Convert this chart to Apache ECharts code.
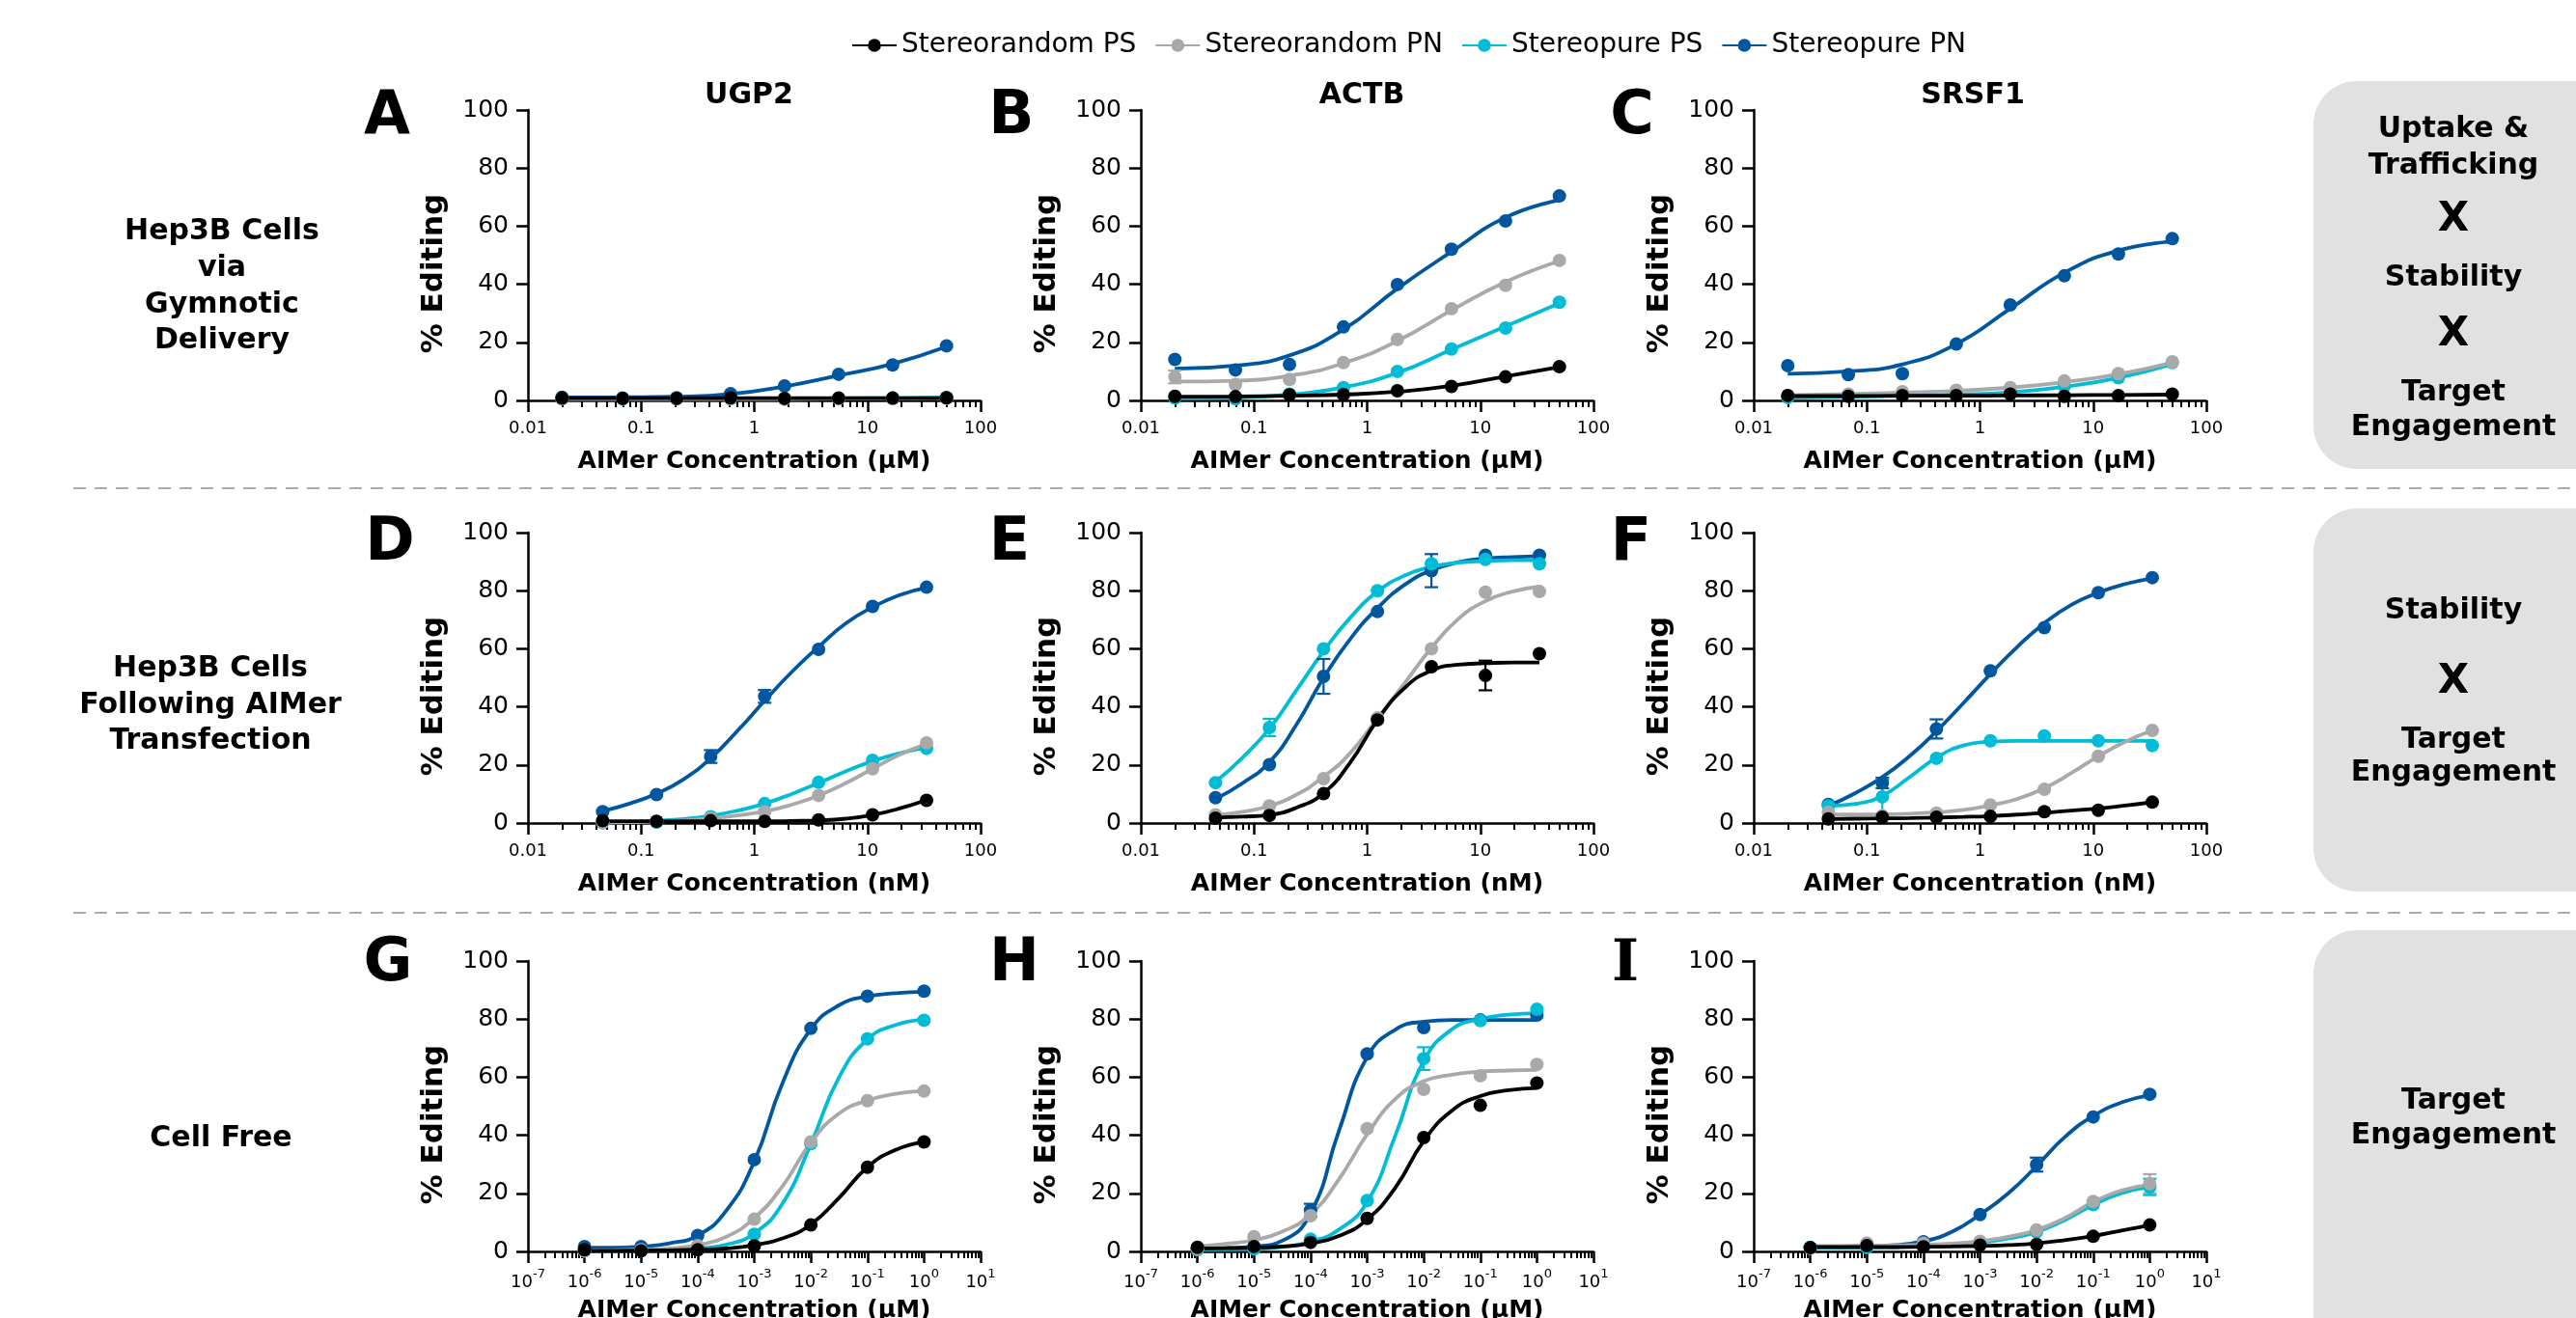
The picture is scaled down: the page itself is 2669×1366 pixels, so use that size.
<!DOCTYPE html>
<html>
<head>
<meta charset="utf-8">
<script src="https://cdn.jsdelivr.net/npm/echarts@6/dist/echarts.min.js"></script>
<style>
  html, body { margin: 0; padding: 0; background: #fff; }
  #main { width: 2669px; height: 1366px; }
</style>
</head>
<body>
<div id="main"></div>
<script>
// ---- data ----
const seriesNames = ["Stereorandom PS", "Stereorandom PN", "Stereopure PS", "Stereopure PN"];
const seriesColors = ["#000000", "#a9a9a9", "#00bcd6", "#0057a0"];

// concentrations (row 1: uM, row 2: nM, row 3: uM)
const concRow1 = [0.02, 0.0686, 0.206, 0.617, 1.85, 5.56, 16.7, 50];
const concRow2 = [0.0457, 0.137, 0.412, 1.235, 3.70, 11.1, 33.3];
const concRow2Fit = [0.0457, 0.0791, 0.137, 0.238, 0.412, 0.713, 1.235, 2.14, 3.70, 6.41, 11.1, 19.2, 33.3];
const concRow3 = [1e-6, 1e-5, 1e-4, 1e-3, 1e-2, 1e-1, 1];
const concRow3Fit = [1e-6, 3.16e-6, 1e-5, 3.16e-5, 1e-4, 3.16e-4, 1e-3, 3.16e-3, 1e-2, 3.16e-2, 0.1, 0.316, 1];

// tick labels
const ticksRow12 = [0.01, 0.1, 1, 10, 100];
const ticksRow3 = [1e-7, 1e-6, 1e-5, 1e-4, 1e-3, 1e-2, 1e-1, 1, 10];

// A - UGP2, gymnotic
const A_srPS = [0.8, 0.7, 0.7, 0.9, 0.7, 0.8, 0.8, 0.9];
const A_srPN = [0.6, 0.5, 0.5, 0.6, 0.4, 0.6, 0.6, 0.7];
const A_spPS = [0.6, 0.5, 0.6, 0.5, 0.6, 0.7, 0.8, 1.0];
const A_spPN = [1.1, 0.8, 0.9, 2.3, 5.0, 9.0, 12.2, 18.8];
const A_srPS_fit = [0.8, 0.8, 0.8, 0.8, 0.8, 0.8, 0.8, 0.8];
const A_srPN_fit = [0.5, 0.5, 0.5, 0.5, 0.5, 0.6, 0.6, 0.7];
const A_spPS_fit = [0.6, 0.6, 0.6, 0.6, 0.6, 0.7, 0.8, 1.0];
const A_spPN_fit = [1.0, 1.1, 1.3, 2.2, 4.8, 8.6, 12.6, 18.5];

// B - ACTB, gymnotic
const B_srPS = [1.4, 1.3, 1.9, 2.0, 3.3, 4.8, 8.1, 11.6];
const B_srPN = [8.1, 5.5, 7.2, 13.0, 21.0, 31.6, 39.6, 48.2];
const B_spPS = [0.8, 0.5, 2.2, 4.4, 10.0, 17.7, 24.9, 33.8];
const B_spPN = [14.1, 10.5, 12.4, 25.3, 39.9, 52.1, 61.8, 70.4];
const B_srPS_fit = [1.3, 1.4, 1.6, 2.0, 3.0, 5.0, 8.3, 11.5];
const B_srPN_fit = [6.5, 6.8, 8.5, 12.8, 20.5, 31.0, 40.8, 48.0];
const B_spPS_fit = [0.8, 1.0, 2.0, 4.5, 9.5, 17.5, 25.5, 33.5];
const B_spPN_fit = [10.9, 12.0, 15.5, 24.4, 38.5, 51.2, 63.0, 69.0];

// C - SRSF1, gymnotic
const C_srPS = [1.7, 1.4, 1.7, 1.7, 2.2, 1.4, 1.7, 2.2];
const C_srPN = [1.7, 2.2, 3.0, 3.5, 4.4, 6.7, 9.2, 13.3];
const C_spPS = [1.0, 1.5, 1.8, 2.0, 2.8, 5.0, 7.8, 13.0];
const C_spPN = [12.0, 8.9, 9.2, 19.4, 32.9, 42.9, 50.4, 55.7];
const C_srPS_fit = [1.5, 1.5, 1.6, 1.6, 1.7, 1.8, 1.9, 2.0];
const C_srPN_fit = [1.8, 2.2, 2.7, 3.3, 4.4, 6.3, 9.0, 13.0];
const C_spPS_fit = [1.0, 1.3, 1.6, 2.0, 2.8, 4.7, 7.8, 12.5];
const C_spPN_fit = [9.2, 10.0, 12.4, 19.4, 31.6, 44.0, 51.6, 54.7];

// D - UGP2, transfection
const D_srPS = [0.8, 0.6, 0.8, 0.6, 1.1, 2.8, 7.8];
const D_srPN = [0.2, 0.6, 1.7, 3.9, 9.5, 18.7, 27.6];
const D_spPS = [0.1, 0.3, 2.2, 6.7, 14.0, 21.6, 25.7];
const D_spPN = [3.9, 9.8, 22.9, 43.6, 59.8, 74.6, 81.2];
const D_srPS_fit = [0.6, 0.6, 0.6, 0.6, 0.6, 0.6, 0.6, 0.7, 0.9, 1.5, 2.8, 5.0, 8.0];
const D_srPN_fit = [0.2, 0.3, 0.5, 0.9, 1.6, 2.6, 4.0, 6.3, 9.5, 13.7, 18.7, 23.5, 27.2];
const D_spPS_fit = [0.2, 0.4, 0.8, 1.4, 2.5, 4.3, 6.7, 10.0, 13.8, 17.8, 21.3, 24.0, 26.0];
const D_spPN_fit = [4.1, 6.7, 10.1, 15.1, 22.3, 31.8, 42.1, 52.0, 60.7, 68.7, 74.3, 78.5, 81.0];

// E - ACTB, transfection
const E_srPS = [1.7, 2.6, 10.1, 35.5, 53.8, 50.8, 58.3];
const E_srPN = [2.8, 5.9, 15.3, 36.2, 60.0, 79.5, 79.7];
const E_spPS = [13.9, 32.9, 60.0, 80.0, 89.3, 90.8, 89.3];
const E_spPN = [8.7, 20.1, 50.5, 72.8, 86.9, 92.2, 92.2];
const E_srPS_fit = [1.9, 2.2, 2.8, 5.3, 10.3, 21.0, 35.5, 46.5, 52.5, 54.5, 55.0, 55.3, 55.3];
const E_srPN_fit = [2.8, 3.9, 5.9, 9.8, 15.9, 24.2, 36.1, 48.1, 60.3, 70.3, 76.4, 79.7, 81.4];
const E_spPS_fit = [14.2, 22.5, 32.5, 45.8, 59.2, 70.8, 79.7, 85.2, 88.2, 89.7, 90.2, 90.5, 90.5];
const E_spPN_fit = [8.3, 13.7, 21.0, 34.0, 50.0, 63.5, 74.0, 82.0, 87.0, 89.8, 91.1, 91.6, 91.9];

// F - SRSF1, transfection
const F_srPS = [1.4, 2.0, 2.0, 2.3, 3.9, 4.4, 7.2];
const F_srPN = [3.7, 2.5, 3.4, 6.2, 11.6, 23.0, 31.9];
const F_spPS = [5.9, 9.0, 22.3, 28.3, 30.0, 28.3, 26.7];
const F_spPN = [6.4, 13.8, 32.4, 52.4, 67.3, 79.3, 84.5];
const F_srPS_fit = [1.4, 1.5, 1.6, 1.7, 1.9, 2.1, 2.4, 2.9, 3.5, 4.3, 5.0, 6.0, 7.2];
const F_srPN_fit = [2.9, 2.9, 3.0, 3.2, 3.7, 4.5, 6.1, 8.3, 12.0, 17.2, 23.0, 28.0, 31.9];
const F_spPS_fit = [5.9, 6.6, 9.4, 15.8, 22.5, 26.7, 28.0, 28.3, 28.3, 28.3, 28.3, 28.3, 28.3];
const F_spPN_fit = [5.9, 10.3, 15.8, 23.0, 31.6, 41.3, 51.3, 60.7, 68.8, 75.1, 79.3, 82.3, 84.3];

// G - UGP2, cell free
const G_srPS = [0.6, 0.2, 0.6, 1.9, 9.1, 29.0, 37.7];
const G_srPN = [0.2, 0.6, 2.0, 11.1, 37.7, 51.9, 55.2];
const G_spPS = [0.2, 0.2, 0.6, 5.9, 37.1, 73.2, 79.6];
const G_spPN = [1.7, 1.7, 5.5, 31.6, 76.8, 87.9, 89.6];
const G_srPS_fit = [0.2, 0.2, 0.3, 0.4, 0.6, 1.0, 2.2, 4.5, 9.3, 18.5, 29.0, 35.0, 37.7];
const G_srPN_fit = [0.3, 0.4, 0.6, 1.0, 2.2, 5.0, 11.5, 22.5, 37.5, 47.5, 52.0, 54.3, 55.2];
const G_spPS_fit = [0.2, 0.2, 0.3, 0.5, 1.0, 2.3, 6.2, 16.5, 37.0, 60.0, 73.0, 78.0, 79.8];
const G_spPN_fit = [1.3, 1.3, 1.7, 2.8, 5.5, 13.9, 31.0, 58.0, 76.5, 84.8, 87.8, 88.9, 89.4];

// H - ACTB, cell free
const H_srPS = [1.4, 1.7, 3.1, 11.4, 39.2, 50.3, 58.0];
const H_srPN = [0.9, 5.1, 12.3, 42.3, 55.8, 60.5, 64.4];
const H_spPS = [0.6, 0.9, 4.2, 17.5, 66.4, 79.5, 83.4];
const H_spPN = [0.9, 1.4, 14.2, 68.0, 77.1, 79.7, 81.4];
const H_srPS_fit = [1.0, 1.1, 1.3, 1.7, 2.8, 5.3, 11.0, 22.0, 38.0, 48.5, 53.5, 55.5, 56.3];
const H_srPN_fit = [1.7, 2.6, 3.9, 6.8, 12.8, 24.8, 40.3, 52.5, 58.6, 60.8, 61.9, 62.3, 62.5];
const H_spPS_fit = [0.6, 0.7, 0.9, 1.5, 3.4, 7.5, 17.0, 40.0, 65.5, 76.5, 80.0, 81.5, 82.0];
const H_spPN_fit = [1.1, 1.2, 1.7, 3.7, 13.1, 41.4, 66.9, 76.4, 79.1, 79.7, 79.7, 79.7, 79.7];

// I - SRSF1, cell free
const I_srPS = [1.3, 2.0, 1.6, 2.2, 2.4, 5.2, 9.1];
const I_srPN = [1.1, 2.8, 2.8, 3.5, 7.4, 17.2, 23.3];
const I_spPS = [1.3, 1.3, 2.2, 3.0, 6.7, 16.1, 22.2];
const I_spPN = [1.3, 2.0, 3.3, 12.7, 29.9, 46.3, 54.1];
const I_srPS_fit = [1.5, 1.5, 1.5, 1.5, 1.6, 1.7, 1.9, 2.2, 2.8, 3.9, 5.3, 7.2, 9.0];
const I_srPN_fit = [1.9, 1.9, 2.0, 2.1, 2.3, 2.7, 3.5, 5.0, 7.4, 11.5, 17.0, 21.0, 23.0];
const I_spPS_fit = [1.3, 1.3, 1.4, 1.5, 1.8, 2.2, 3.0, 4.5, 6.7, 10.8, 16.0, 20.0, 22.2];
const I_spPN_fit = [1.7, 1.7, 1.9, 2.2, 3.5, 6.7, 12.7, 20.0, 29.4, 39.4, 46.6, 51.3, 53.8];

// visible error bars: [panel, series index, point index, sd]
const errorBars = [
  ["B", 1, 0, 2.2],
  ["D", 3, 2, 2.2], ["D", 3, 3, 2.2],
  ["E", 2, 1, 3.0], ["E", 3, 2, 6.0], ["E", 3, 4, 5.7], ["E", 0, 5, 5.1],
  ["F", 3, 1, 1.8], ["F", 2, 1, 6.0], ["F", 3, 2, 3.3],
  ["H", 3, 2, 2.2], ["H", 2, 4, 3.9],
  ["I", 3, 4, 2.4], ["I", 1, 6, 3.3], ["I", 2, 6, 2.8]
];

// ---- layout ----
const FONT = "DejaVu Sans";
const gridLeft = [547, 1182, 1817];
const gridTop = [114, 552, 996];
const gridW = 469, gridH = 301;

const rows = [
  { x: concRow1, xFit: concRow1, min: 0.01, max: 100, ticks: ticksRow12, unit: "AIMer Concentration (µM)", gap: 51 },
  { x: concRow2, xFit: concRow2Fit, min: 0.01, max: 100, ticks: ticksRow12, unit: "AIMer Concentration (nM)", gap: 51 },
  { x: concRow3, xFit: concRow3Fit, min: 1e-7, max: 10, ticks: ticksRow3, unit: "AIMer Concentration (µM)", gap: 49 }
];

const panels = [
  { key: "A", row: 0, col: 0, pts: [A_srPS, A_srPN, A_spPS, A_spPN], fit: [A_srPS_fit, A_srPN_fit, A_spPS_fit, A_spPN_fit] },
  { key: "B", row: 0, col: 1, pts: [B_srPS, B_srPN, B_spPS, B_spPN], fit: [B_srPS_fit, B_srPN_fit, B_spPS_fit, B_spPN_fit] },
  { key: "C", row: 0, col: 2, pts: [C_srPS, C_srPN, C_spPS, C_spPN], fit: [C_srPS_fit, C_srPN_fit, C_spPS_fit, C_spPN_fit] },
  { key: "D", row: 1, col: 0, pts: [D_srPS, D_srPN, D_spPS, D_spPN], fit: [D_srPS_fit, D_srPN_fit, D_spPS_fit, D_spPN_fit] },
  { key: "E", row: 1, col: 1, pts: [E_srPS, E_srPN, E_spPS, E_spPN], fit: [E_srPS_fit, E_srPN_fit, E_spPS_fit, E_spPN_fit] },
  { key: "F", row: 1, col: 2, pts: [F_srPS, F_srPN, F_spPS, F_spPN], fit: [F_srPS_fit, F_srPN_fit, F_spPS_fit, F_spPN_fit] },
  { key: "G", row: 2, col: 0, pts: [G_srPS, G_srPN, G_spPS, G_spPN], fit: [G_srPS_fit, G_srPN_fit, G_spPS_fit, G_spPN_fit] },
  { key: "H", row: 2, col: 1, pts: [H_srPS, H_srPN, H_spPS, H_spPN], fit: [H_srPS_fit, H_srPN_fit, H_spPS_fit, H_spPN_fit] },
  { key: "I", row: 2, col: 2, pts: [I_srPS, I_srPN, I_spPS, I_spPN], fit: [I_srPS_fit, I_srPN_fit, I_spPS_fit, I_spPN_fit] }
];

function minorTicks(min, max) {
  const out = [];
  for (let d = min; d < max * 0.999; d *= 10) {
    for (let m = 2; m <= 9; m++) out.push(Number((d * m).toPrecision(3)));
  }
  return out;
}

function errRender(params, api) {
  const lo = api.coord([api.value(0), api.value(1)]);
  const hi = api.coord([api.value(0), api.value(2)]);
  const w = 7;
  const style = { stroke: api.visual("color"), lineWidth: 2.2 };
  return {
    type: "group",
    children: [
      { type: "line", shape: { x1: hi[0], y1: hi[1], x2: lo[0], y2: lo[1] }, style: style },
      { type: "line", shape: { x1: hi[0] - w, y1: hi[1], x2: hi[0] + w, y2: hi[1] }, style: style },
      { type: "line", shape: { x1: lo[0] - w, y1: lo[1], x2: lo[0] + w, y2: lo[1] }, style: style }
    ]
  };
}

const grid = [], xAxis = [], yAxis = [], series = [];
panels.forEach(function (p, i) {
  const r = rows[p.row];
  grid.push({ left: gridLeft[p.col], top: gridTop[p.row], width: gridW, height: gridH, outerBoundsMode: "none" });
  const sup = p.row === 2;
  xAxis.push({
    type: "log", logBase: 10, gridIndex: i, min: r.min, max: r.max, position: "bottom",
    axisLine: { onZero: false, lineStyle: { color: "#000", width: 2.5 } },
    axisTick: { length: 12, customValues: r.ticks, lineStyle: { color: "#000", width: 2.5 } },
    axisLabel: {
      customValues: r.ticks, color: "#000", fontFamily: FONT, fontSize: 18, margin: sup ? 17 : 20,
      formatter: sup
        ? function (v) { return "{b|10}{s|" + Math.round(Math.log10(v)) + "}"; }
        : function (v) { return String(Number(v.toPrecision(3))); },
      rich: sup ? {
        b: { fontSize: 18, fontFamily: FONT, color: "#000", lineHeight: 24, verticalAlign: "bottom" },
        s: { fontSize: 13, fontFamily: FONT, color: "#000", lineHeight: 14, verticalAlign: "top" }
      } : undefined
    },
    splitLine: { show: false },
    name: r.unit, nameLocation: "middle", nameGap: r.gap,
    nameTextStyle: { fontSize: 25, fontWeight: "bold", fontFamily: FONT, color: "#000" }
  });
  xAxis.push({
    type: "log", logBase: 10, gridIndex: i, min: r.min, max: r.max, position: "bottom",
    axisLine: { show: false, onZero: false },
    axisTick: { length: 7, customValues: minorTicks(r.min, r.max), lineStyle: { color: "#000", width: 2 } },
    axisLabel: { show: false },
    splitLine: { show: false }
  });
  yAxis.push({
    type: "value", gridIndex: i, min: 0, max: 100, interval: 20,
    axisLine: { show: true, onZero: false, lineStyle: { color: "#000", width: 2.5 } },
    axisTick: { show: true, length: 12, lineStyle: { color: "#000", width: 2.5 } },
    axisLabel: { color: "#000", fontFamily: FONT, fontSize: 25, margin: 20 },
    splitLine: { show: false },
    name: "% Editing", nameLocation: "middle", nameGap: 82,
    nameTextStyle: { fontSize: 31, fontWeight: "bold", fontFamily: FONT, color: "#000", padding: [0, 38, 0, 0] }
  });

  // fitted curves then points; stereopure PN at the back, stereorandom PS in front
  for (let s = 3; s >= 0; s--) {
    series.push({
      type: "line", name: seriesNames[s], xAxisIndex: 2 * i, yAxisIndex: i,
      data: r.xFit.map(function (x, k) { return [x, p.fit[s][k]]; }),
      smooth: 0.5, symbol: "circle", symbolSize: 13, showSymbol: false,
      lineStyle: { width: 3.8, color: seriesColors[s] }, itemStyle: { color: seriesColors[s] },
      z: 2, silent: true
    });
  }
  for (let s = 3; s >= 0; s--) {
    series.push({
      type: "scatter", name: seriesNames[s], xAxisIndex: 2 * i, yAxisIndex: i,
      data: r.x.map(function (x, k) { return [x, p.pts[s][k]]; }),
      symbol: "circle", symbolSize: 14, itemStyle: { color: seriesColors[s], opacity: 1 },
      z: 3, silent: true
    });
  }
  const bars = errorBars.filter(function (e) { return e[0] === p.key; });
  bars.forEach(function (e) {
    const y = p.pts[e[1]][e[2]];
    series.push({
      type: "custom", xAxisIndex: 2 * i, yAxisIndex: i, renderItem: errRender,
      itemStyle: { color: seriesColors[e[1]] },
      encode: { x: 0, y: [1, 2] },
      data: [[r.x[e[2]], y - e[3], y + e[3]]], z: 3, silent: true
    });
  });
});

// ---- annotations ----
function txt(x, y, text, size, extra) {
  return {
    type: "text", x: x, y: y, z: 10,
    style: Object.assign({
      text: text, fontSize: size, fontWeight: "bold", fontFamily: FONT, fill: "#000",
      align: "center", verticalAlign: "middle"
    }, extra || {})
  };
}

const graphic = [];
[[84, 402], [527, 397], [964, 450]].forEach(function (b) {
  graphic.push({ type: "rect", z: 1, shape: { x: 2397, y: b[0], width: 420, height: b[1], r: 45 }, style: { fill: "#e1e1e1" } });
});
[506, 946].forEach(function (y) {
  graphic.push({ type: "line", z: 1, shape: { x1: 76, y1: y, x2: 2669, y2: y }, style: { stroke: "#ababab", lineWidth: 2, lineDash: [13, 9] } });
});

// panel letters
const letterPos = [[401, 122], [1048, 122], [1691, 122], [404, 564], [1046, 564], [1690, 564], [402, 1000], [1051, 1000], [1684, 1000]];
panels.forEach(function (p, i) {
  graphic.push(txt(letterPos[i][0], letterPos[i][1], p.key, 62, p.key === "I" ? { fontFamily: "DejaVu Serif", fontSize: 60 } : {}));
});

// gene titles
graphic.push(txt(776, 99, "UGP2", 30));
graphic.push(txt(1411, 99, "ACTB", 30));
graphic.push(txt(2044, 99, "SRSF1", 30));

// row labels
graphic.push(txt(230, 297, "Hep3B Cells\nvia\nGymnotic\nDelivery", 30, { lineHeight: 37.7 }));
graphic.push(txt(218, 731, "Hep3B Cells\nFollowing AIMer\nTransfection", 30, { lineHeight: 37.5 }));
graphic.push(txt(229, 1180, "Cell Free", 30));

// right boxes
graphic.push(txt(2542, 134, "Uptake &", 30));
graphic.push(txt(2542, 172, "Trafficking", 30));
graphic.push(txt(2542, 228, "X", 42));
graphic.push(txt(2542, 288, "Stability", 30));
graphic.push(txt(2542, 347, "X", 42));
graphic.push(txt(2542, 407, "Target", 30));
graphic.push(txt(2542, 443, "Engagement", 30));
graphic.push(txt(2542, 633, "Stability", 30));
graphic.push(txt(2542, 707, "X", 42));
graphic.push(txt(2542, 767, "Target", 30));
graphic.push(txt(2542, 801, "Engagement", 30));
graphic.push(txt(2542, 1141, "Target", 30));
graphic.push(txt(2542, 1177, "Engagement", 30));

const chart = echarts.init(document.getElementById("main"), null, { renderer: "canvas" });
chart.setOption({
  animation: false,
  backgroundColor: "#ffffff",
  textStyle: { fontFamily: FONT },
  legend: {
    left: 877, top: 28, itemWidth: 46, itemHeight: 17, itemGap: 19, selectedMode: false,
    textStyle: { fontSize: 28, fontFamily: FONT, color: "#000" },
    data: seriesNames
  },
  grid: grid,
  xAxis: xAxis,
  yAxis: yAxis,
  series: series,
  graphic: graphic
});
</script>
</body>
</html>
